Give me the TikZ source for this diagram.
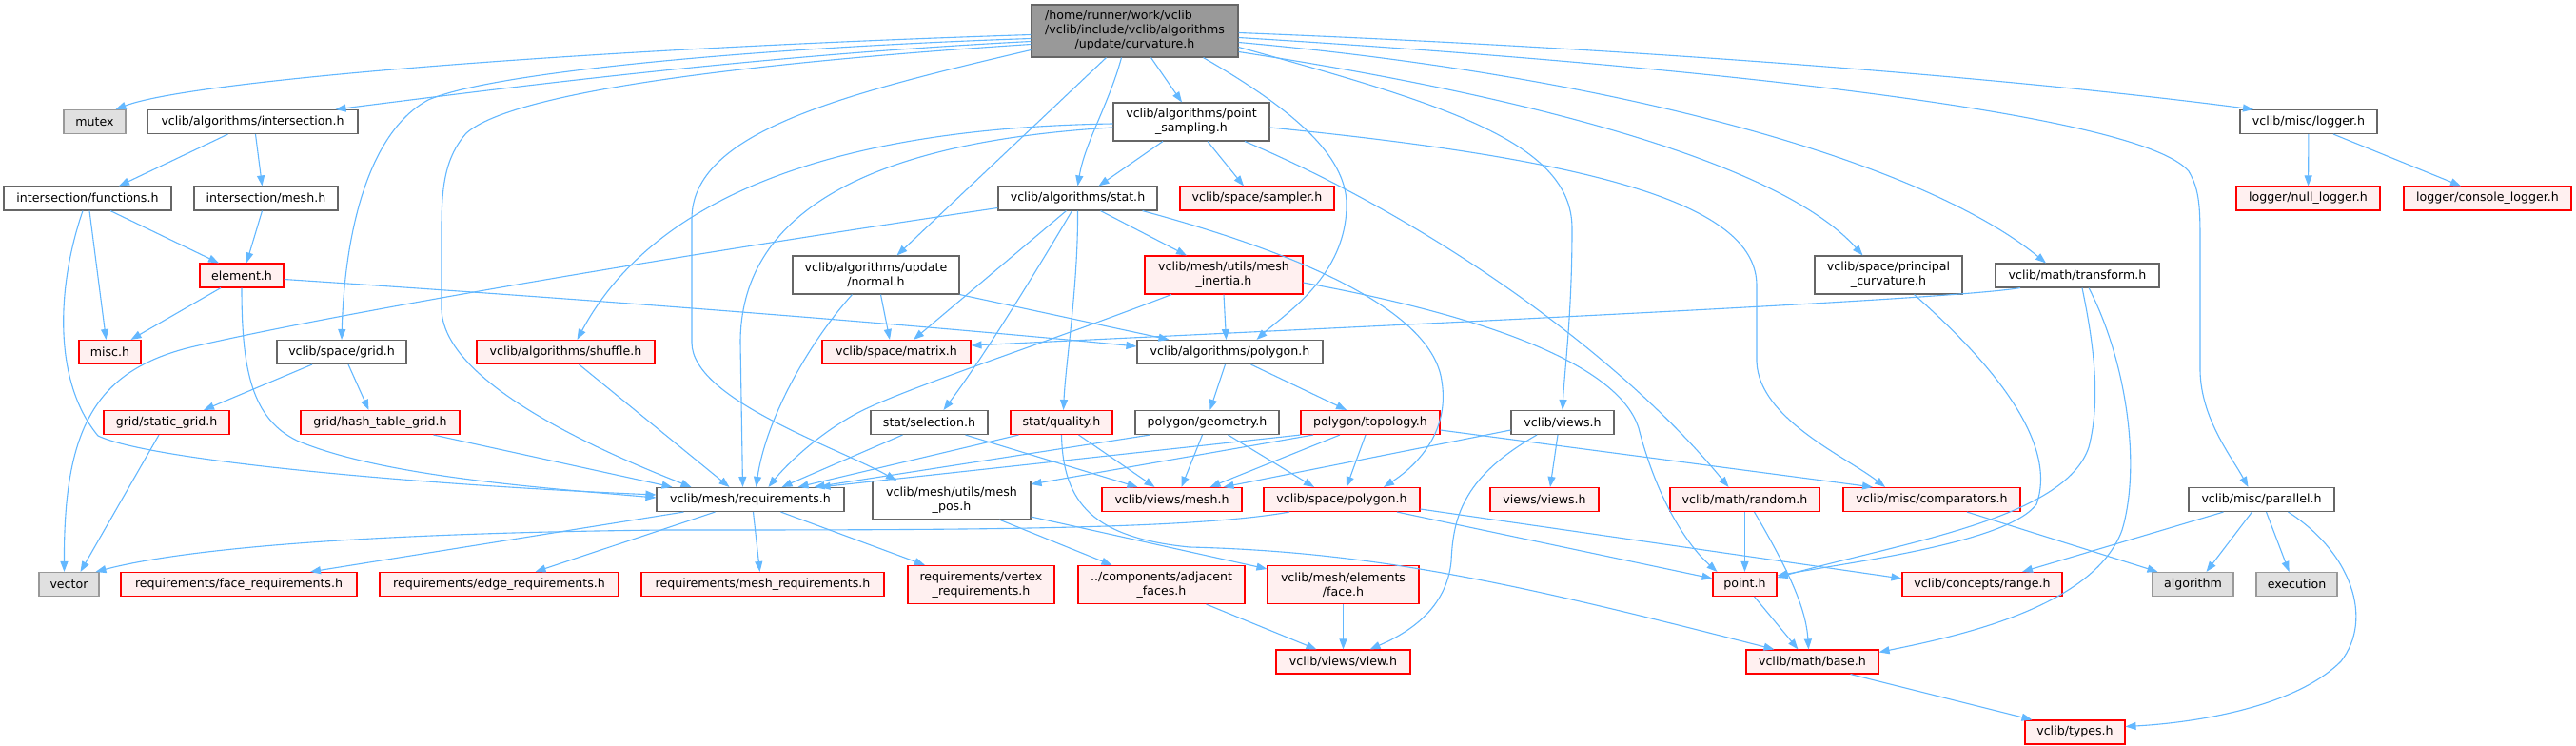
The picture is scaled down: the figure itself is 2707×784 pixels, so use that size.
\documentclass[tikz,border=0pt]{standalone}
\usepackage{fontspec}
\setmainfont{DejaVu Sans}
\usetikzlibrary{arrows.meta}
\definecolor{edgec}{HTML}{63B8FF}
\definecolor{bordg}{HTML}{666666}
\definecolor{redfill}{HTML}{FFF0F0}
\definecolor{extfill}{HTML}{E0E0E0}
\definecolor{extbord}{HTML}{999999}
\definecolor{mainfill}{HTML}{999999}
\tikzset{
 box/.style={rectangle, inner sep=0pt, minimum height=25pt, align=center, line width=1.1pt, font=\fontsize{12.6}{15}\selectfont, text=black},
 wn/.style={box, draw=bordg, fill=white},
 rn/.style={box, draw=red, fill=redfill},
 gn/.style={box, draw=extbord, fill=extfill},
 mn/.style={box, draw=bordg, fill=mainfill},
 tall/.style={minimum height=40pt},
 e/.style={draw=edgec, line width=1.1pt, -{Triangle[length=11pt,width=8pt]}},
}
\begin{document}
\begin{tikzpicture}[x=1pt,y=-1pt]
\fill[white] (0,0) rectangle (2707,784);
\useasboundingbox (0,0) rectangle (2707,784);
% nodes
\node[mn, minimum width=217pt, minimum height=55pt] (main) at (1192.5,32.5) {\begin{tabular}{@{}l@{}}/home/runner/work/vclib\\/vclib/include/vclib/algorithms\\\multicolumn{1}{@{}c@{}}{/update/curvature.h}\end{tabular}};
\node[gn, minimum width=65pt] (mutex) at (99.5,128) {mutex};
\node[wn, minimum width=221pt] (isect) at (265.5,128) {vclib/algorithms/intersection.h};
\node[wn, tall, minimum width=164pt] (ps) at (1252,128) {vclib/algorithms/point\\\_sampling.h};
\node[wn, minimum width=144pt] (logger) at (2426,128) {vclib/misc/logger.h};
\node[wn, minimum width=176pt] (func) at (92,208.5) {intersection/functions.h};
\node[wn, minimum width=151pt] (imesh) at (279.5,208.5) {intersection/mesh.h};
\node[wn, minimum width=167pt] (stat) at (1132.5,208.5) {vclib/algorithms/stat.h};
\node[rn, minimum width=162pt] (sampler) at (1321,208.5) {vclib/space/sampler.h};
\node[rn, minimum width=151pt] (nulll) at (2425.5,208.5) {logger/null\_logger.h};
\node[rn, minimum width=176pt] (conl) at (2614,208.5) {logger/console\_logger.h};
\node[rn, minimum width=88pt] (element) at (254,289.5) {element.h};
\node[wn, tall, minimum width=175pt] (normal) at (920.5,289) {vclib/algorithms/update\\/normal.h};
\node[rn, tall, minimum width=166pt] (inertia) at (1286,289) {vclib/mesh/utils/mesh\\\_inertia.h};
\node[wn, tall, minimum width=155pt] (princ) at (1984.5,289) {vclib/space/principal\\\_curvature.h};
\node[wn, minimum width=172pt] (transf) at (2183,289.5) {vclib/math/transform.h};
\node[rn, minimum width=65pt] (misc) at (115.5,370) {misc.h};
\node[wn, minimum width=136pt] (grid) at (359,370) {vclib/space/grid.h};
\node[rn, minimum width=187pt] (shuffle) at (594.5,370) {vclib/algorithms/shuffle.h};
\node[rn, minimum width=156pt] (matrix) at (942,370) {vclib/space/matrix.h};
\node[wn, minimum width=195pt] (apoly) at (1292.5,370) {vclib/algorithms/polygon.h};
\node[rn, minimum width=132pt] (sgrid) at (175,444) {grid/static\_grid.h};
\node[rn, minimum width=167pt] (hgrid) at (399.5,444) {grid/hash\_table\_grid.h};
\node[wn, minimum width=123pt] (sel) at (976.5,444) {stat/selection.h};
\node[rn, minimum width=107pt] (qual) at (1115.5,444) {stat/quality.h};
\node[wn, minimum width=151pt] (geom) at (1268.5,444) {polygon/geometry.h};
\node[rn, minimum width=146pt] (topo) at (1440,444) {polygon/topology.h};
\node[wn, minimum width=108pt] (views) at (1642,444) {vclib/views.h};
\node[wn, minimum width=197pt] (req) at (788.5,525) {vclib/mesh/requirements.h};
\node[wn, tall, minimum width=166pt] (mpos) at (1000,525.5) {vclib/mesh/utils/mesh\\\_pos.h};
\node[rn, minimum width=147pt] (vmesh) at (1231.5,525) {vclib/views/mesh.h};
\node[rn, minimum width=164pt] (spoly) at (1410,525) {vclib/space/polygon.h};
\node[rn, minimum width=114pt] (vviews) at (1623,525) {views/views.h};
\node[rn, minimum width=157pt] (random) at (1833.5,525) {vclib/math/random.h};
\node[rn, minimum width=186pt] (comp) at (2030,525) {vclib/misc/comparators.h};
\node[wn, minimum width=153pt] (par) at (2376.5,525) {vclib/misc/parallel.h};
\node[gn, minimum width=63pt] (vector) at (72.5,614) {vector};
\node[rn, minimum width=248pt] (freq) at (251,614) {requirements/face\_requirements.h};
\node[rn, minimum width=251pt] (ereq) at (524.5,614) {requirements/edge\_requirements.h};
\node[rn, minimum width=255pt] (mreq) at (801.5,614) {requirements/mesh\_requirements.h};
\node[rn, tall, minimum width=154pt] (vreq) at (1031,614.5) {requirements/vertex\\\_requirements.h};
\node[rn, tall, minimum width=175pt] (adj) at (1220.5,614.5) {../components/adjacent\\\_faces.h};
\node[rn, tall, minimum width=159pt] (face) at (1411.5,614.5) {vclib/mesh/elements\\/face.h};
\node[rn, minimum width=67pt] (point) at (1833.5,614) {point.h};
\node[rn, minimum width=168pt] (range) at (2083,614) {vclib/concepts/range.h};
\node[gn, minimum width=85pt] (algo) at (2304.5,614) {algorithm};
\node[gn, minimum width=85pt] (exec) at (2413.5,614) {execution};
\node[rn, minimum width=141pt] (view) at (1411.5,695.5) {vclib/views/view.h};
\node[rn, minimum width=139pt] (base) at (1904.5,695.5) {vclib/math/base.h};
\node[rn, minimum width=105pt] (types) at (2180.5,769.5) {vclib/types.h};
% edges from main
\draw[e] ([yshift=-4]main.west) .. controls (600,52) and (200,85) .. ([xshift=22]mutex.north);
\draw[e] ([yshift=-8]main.west) .. controls (800,50) and (520,75) .. (450,105) .. controls (385,140) and (362,250) .. (grid.north);
\draw[e] ([yshift=-11]main.west) .. controls (800,58) and (550,90) .. ([xshift=87]isect.north);
\draw[e] ([yshift=-14]main.west) .. controls (800,65) and (540,95) .. (490,140) .. controls (468,165) and (464,195) .. (464,240) -- (464,325) .. controls (466,400) and (620,470) .. ([xshift=-62]req.north);
\draw[e] ([yshift=-20]main.west) .. controls (880,100) and (727,140) .. (727,230) -- (727,360) .. controls (727,420) and (880,470) .. ([xshift=-58]mpos.north);
\draw[e] ([xshift=17]main.south) -- ([xshift=-10]ps.north);
\draw[e] ([xshift=-14]main.south) .. controls (1165,110) and (1140,150) .. (stat.north);
\draw[e] ([xshift=-30]main.south) -- ([xshift=22]normal.north);
\draw[e] ([xshift=72]main.south) .. controls (1350,110) and (1415,160) .. (1415,215) .. controls (1415,290) and (1350,330) .. ([xshift=28]apoly.north);
\draw[e] ([yshift=-17]main.east) .. controls (1520,110) and (1652,150) .. (1652,240) .. controls (1652,330) and (1644,390) .. (views.north);
\draw[e] ([yshift=-22]main.east) .. controls (1600,100) and (1870,170) .. ([xshift=-27]princ.north);
\draw[e] ([yshift=-12]main.east) .. controls (1700,80) and (2020,170) .. ([xshift=-33]transf.north);
\draw[e] ([yshift=-7]main.east) .. controls (1800,70) and (2250,120) .. (2300,180) .. controls (2312,200) and (2312,220) .. (2312,260) -- (2312,390) .. controls (2313,440) and (2345,480) .. ([xshift=-14]par.north);
\draw[e] ([yshift=-2]main.east) .. controls (1700,50) and (2100,80) .. ([xshift=-58]logger.north);
% point_sampling
\draw[e] ([xshift=-30]ps.south) -- ([xshift=22]stat.north);
\draw[e] ([xshift=17]ps.south) -- ([xshift=-14]sampler.north);
\draw[e] ([yshift=-2]ps.west) .. controls (850,135) and (680,220) .. ([xshift=12]shuffle.north);
\draw[e] ([yshift=-6]ps.west) .. controls (900,150) and (778,230) .. (778,360) -- ([xshift=-8]req.north);
\draw[e] ([xshift=56]ps.south) .. controls (1500,230) and (1700,370) .. ([xshift=-17]random.north);
\draw[e] ([yshift=-6]ps.east) .. controls (1700,170) and (1846,220) .. (1846,300) -- (1846,380) .. controls (1848,440) and (1940,480) .. ([xshift=-49]comp.north);
% stat
\draw[e] ([yshift=-10]stat.west) .. controls (700,270) and (350,330) .. (200,365) .. controls (100,390) and (67,450) .. ([xshift=-5]vector.north);
\draw[e] ([xshift=-12]stat.south) -- ([xshift=18]matrix.north);
\draw[e] ([xshift=24]stat.south) -- ([xshift=-39]inertia.north);
\draw[e] ([xshift=-6]stat.south) .. controls (1080,300) and (1030,380) .. ([xshift=15]sel.north);
\draw[e] (stat.south) .. controls (1133,300) and (1120,380) .. ([xshift=2]qual.north);
\draw[e] ([xshift=68]stat.south) .. controls (1380,270) and (1505,330) .. (1515,400) .. controls (1525,460) and (1480,495) .. ([xshift=44]spoly.north);
% normal
\draw[e] ([xshift=5]normal.south) -- ([xshift=-7]matrix.north);
\draw[e] (normal.south east) -- ([xshift=-64]apoly.north);
\draw[e] ([xshift=-25]normal.south) .. controls (850,360) and (805,440) .. ([xshift=6]req.north);
% inertia
\draw[e] (inertia.south) -- ([xshift=-4]apoly.north);
\draw[e] ([xshift=-55]inertia.south) .. controls (1100,360) and (960,405) .. (905,432) .. controls (860,455) and (825,490) .. ([xshift=19]req.north);
\draw[e] ([yshift=-8]inertia.east) .. controls (1550,330) and (1700,380) .. (1722,450) .. controls (1740,520) and (1770,570) .. ([xshift=-29]point.north);
% algorithms/polygon
\draw[e] ([xshift=-5]apoly.south) -- ([xshift=3]geom.north);
\draw[e] ([xshift=22]apoly.south) -- ([xshift=-25]topo.north);
% row 5
\draw[e] ([xshift=-28]sel.south) -- ([xshift=33]req.north);
\draw[e] ([xshift=38]sel.south) -- ([xshift=-36]vmesh.north);
\draw[e] ([xshift=-45]qual.south) -- ([xshift=50]req.north);
\draw[e] ([xshift=18]qual.south) -- ([xshift=-18]vmesh.north);
\draw[e] (qual.south) .. controls (1117,530) and (1150,565) .. (1250,575) .. controls (1450,580) and (1600,615) .. ([xshift=-40]base.north);
\draw[e] ([xshift=-60]geom.south) -- ([xshift=67]req.north);
\draw[e] ([xshift=-5]geom.south) -- ([xshift=10]vmesh.north);
\draw[e] ([xshift=22]geom.south) -- ([xshift=-29]spoly.north);
\draw[e] (topo.south west) -- ([xshift=73]req.north);
\draw[e] ([xshift=-60]topo.south) -- ([yshift=-4]mpos.north east);
\draw[e] ([xshift=-32]topo.south) -- ([xshift=40]vmesh.north);
\draw[e] ([xshift=-5]topo.south) -- ([xshift=5]spoly.north);
\draw[e] ([yshift=-8]topo.east) -- ([xshift=-62]comp.north);
\draw[e] ([yshift=-8]views.west) -- ([xshift=54]vmesh.north);
\draw[e] ([xshift=-5]views.south) -- ([xshift=6]vviews.north);
\draw[e] ([xshift=-27]views.south) .. controls (1540,500) and (1527,540) .. (1525,590) .. controls (1520,640) and (1480,665) .. ([xshift=28]view.north);
% mesh_pos etc
\draw[e] ([xshift=50]mpos.south) -- ([xshift=-52]adj.north);
\draw[e] ([yshift=3]mpos.south east) -- ([yshift=-4]face.north west);
\draw[e] ([xshift=47]adj.south) -- ([xshift=-28]view.north);
\draw[e] (face) -- (view);
% requirements
\draw[e] ([xshift=-70]req.south) -- ([xshift=75]freq.north);
\draw[e] ([xshift=-37]req.south) -- ([xshift=38]ereq.north);
\draw[e] ([xshift=3]req.south) -- ([xshift=-3]mreq.north);
\draw[e] ([xshift=32]req.south) -- ([xshift=-59]vreq.north);
% left cluster
\draw[e] ([xshift=-26]isect.south) -- ([xshift=33]func.north);
\draw[e] ([xshift=3]isect.south) -- ([xshift=-4]imesh.north);
\draw[e] ([xshift=-4]imesh.south) -- ([xshift=5]element.north);
\draw[e] ([xshift=2]func.south) -- ([xshift=-4]misc.north);
\draw[e] ([xshift=24]func.south) -- ([xshift=-24]element.north);
\draw[e] ([xshift=-5]func.south) .. controls (60,300) and (55,400) .. (103,458) .. controls (160,485) and (450,510) .. ([yshift=5]req.west);
\draw[e] ([xshift=-22]element.south) -- ([xshift=22]misc.north);
\draw[e] (element.south) .. controls (254,390) and (265,440) .. (312,463) .. controls (400,500) and (560,512) .. ([yshift=2]req.west);
\draw[e] ([yshift=-4]element.east) .. controls (700,320) and (1000,345) .. ([yshift=6]apoly.west);
\draw[e] ([xshift=-31]grid.south) -- ([xshift=39]sgrid.north);
\draw[e] ([xshift=7]grid.south) -- ([xshift=-12]hgrid.north);
\draw[e] ([xshift=-8]sgrid.south) -- ([xshift=12]vector.north);
\draw[e] ([xshift=56]hgrid.south) -- ([xshift=-82]req.north);
\draw[e] ([xshift=14]shuffle.south) -- ([xshift=-22]req.north);
% right cluster
\draw[e] ([xshift=-60]transf.south) .. controls (2050,315) and (1500,340) .. ([yshift=7]matrix.east);
\draw[e] ([xshift=5]transf.south) .. controls (2200,360) and (2208,420) .. (2195,470) .. controls (2170,545) and (2000,570) .. ([yshift=7]point.east);
\draw[e] ([xshift=12]transf.south) .. controls (2235,380) and (2250,490) .. (2230,557) .. controls (2200,640) and (2050,670) .. ([yshift=-3]base.north east);
\draw[e] ([xshift=27]princ.south) .. controls (2080,370) and (2165,460) .. (2140,530) .. controls (2110,570) and (1950,590) .. ([yshift=9]point.east);
\draw[e] (random) -- (point);
\draw[e] ([xshift=10]random.south) .. controls (1880,600) and (1898,640) .. ([xshift=-4]base.north);
\draw[e] ([xshift=10]point.south) -- ([xshift=-15]base.north);
\draw[e] ([xshift=40]base.south) -- ([xshift=-45]types.north);
\draw[e] ([xshift=37]comp.south) -- ([xshift=-37]algo.north);
\draw[e] ([xshift=-40]par.south) -- ([xshift=42]range.north);
\draw[e] ([xshift=-10]par.south) -- ([xshift=14]algo.north);
\draw[e] ([xshift=5]par.south) -- ([xshift=-8]exec.north);
\draw[e] ([xshift=28]par.south) .. controls (2470,580) and (2495,650) .. (2460,695) .. controls (2410,745) and (2300,760) .. ([yshift=6]types.east);
\draw[e] ([xshift=58]spoly.south) -- ([yshift=6]point.west);
\draw[e] ([yshift=-10]spoly.east) -- ([yshift=6]range.west);
\draw[e] ([xshift=-55]spoly.south) .. controls (1250,557) and (1000,557) .. (700,557) .. controls (400,560) and (200,575) .. ([xshift=28]vector.north);
\draw[e] (logger) -- (nulll);
\draw[e] ([xshift=26]logger.south) -- ([xshift=-28]conl.north);
\end{tikzpicture}
\end{document}
